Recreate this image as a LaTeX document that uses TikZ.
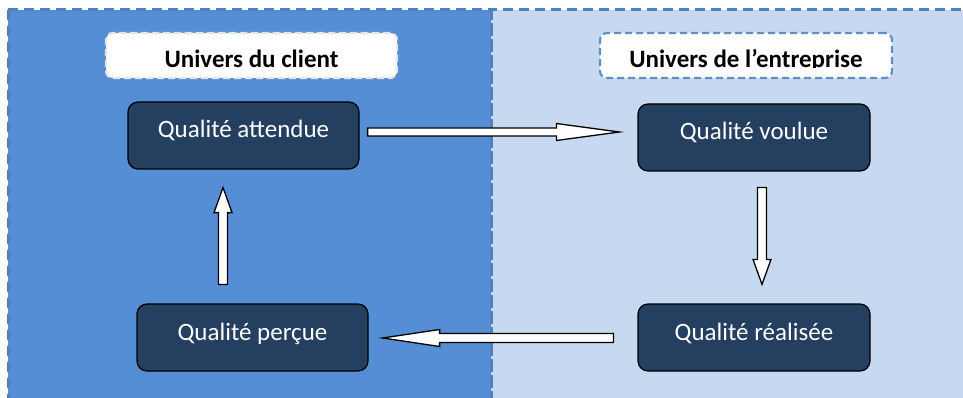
\documentclass[tikz,border=0pt]{standalone}
\usepackage{fontspec}
\setmainfont{Carlito}
\usetikzlibrary{calc}
\definecolor{leftbg}{HTML}{558ED5}
\definecolor{rightbg}{HTML}{C6D9F1}
\definecolor{dashblue}{HTML}{4F81BD}
\definecolor{boxfill}{HTML}{243F60}
% #1 start, #2 tip, #3 shaft half width, #4 head half width, #5 head length
\newcommand\myblockarrow[5]{%
  \coordinate (bahead) at ($(#2)!#5!(#1)$);
  \draw[blockarrow] ($(#1)!#3!90:(#2)$) -- ($(bahead)!#3!90:(#2)$) -- ($(bahead)!#4!90:(#2)$) -- (#2)
    -- ($(bahead)!#4!-90:(#2)$) -- ($(bahead)!#3!-90:(#2)$) -- ($(#1)!#3!-90:(#2)$) -- cycle;}
\begin{document}
\begin{tikzpicture}[x=1pt,y=-1pt,
  panel/.style={draw=dashblue, line width=3pt, dash pattern=on 10pt off 6pt},
  qbox/.style={rounded corners=10pt, draw=black, line width=1.2pt, fill=boxfill, text=white,
    minimum width=231pt, minimum height=67pt, inner sep=0pt, text height=12pt, text depth=7pt,
    font=\fontsize{25}{30}\selectfont},
  labelbox/.style={rounded corners=7pt, fill=white, line width=2.2pt, dash pattern=on 7pt off 4pt,
    minimum height=45pt, inner sep=0pt},
  labeltext/.style={inner sep=0pt, text height=24pt, text depth=0pt, font=\fontsize{25}{30}\selectfont\bfseries},
  blockarrow/.style={draw=black, fill=white, line width=1.3pt, line join=miter}]
\useasboundingbox (0,0) rectangle (963,398);
\clip (0,0) rectangle (963,398);
% panels
\path[fill=rightbg] (491,10) rectangle (980,420);
\path[fill=leftbg] (8,10) rectangle (491,420);
\draw[panel] (491,10) rectangle (980,420);
\draw[panel] (8,10) rectangle (491,420);
% label boxes
\node[labelbox, draw=white!90!black, minimum width=291pt] (lc) at (251.5,55.5) {};
\node[labelbox, draw=dashblue!90!white, minimum width=292pt] (le) at (746,55.5) {};
\begin{scope}
  \clip (0,0) rectangle (963,67.6);
  \node[labeltext] (lct) at (lc.center) {Univers du client};
  \node[labeltext] (let) at (le.center) {Univers de l’entreprise};
\end{scope}
% boxes
\node[qbox] (qa) at (243.5,135.5) {Qualité attendue};
\node[qbox, minimum width=232pt] (qv) at (754,137.5) {Qualité voulue};
\node[qbox] (qp) at (252.5,337.5) {Qualité perçue};
\node[qbox, minimum width=232pt] (qr) at (754,337.5) {Qualité réalisée};
% arrow ends
\coordinate (a1s) at ($(qa.east)+(8,-3.5)$);
\coordinate (a1e) at ($(qv.west)+(-18,-5.5)$);
\coordinate (a2s) at ($(qv.south)+(8,16)$);
\coordinate (a2e) at ($(qr.north)+(8,-19)$);
\coordinate (a3s) at ($(qr.west)+(-24,0.5)$);
\coordinate (a3e) at ($(qp.east)+(14,0.5)$);
\coordinate (a4s) at ($(qp.north)+(-29.5,-19)$);
\coordinate (a4e) at ($(qa.south)+(-20.5,18)$);
\myblockarrow{a1s}{a1e}{4pt}{8.5pt}{63pt}
\myblockarrow{a2s}{a2e}{4.5pt}{9pt}{25pt}
\myblockarrow{a3s}{a3e}{4.5pt}{8.5pt}{57pt}
\myblockarrow{a4s}{a4e}{4.5pt}{9pt}{25pt}
\end{tikzpicture}
\end{document}
